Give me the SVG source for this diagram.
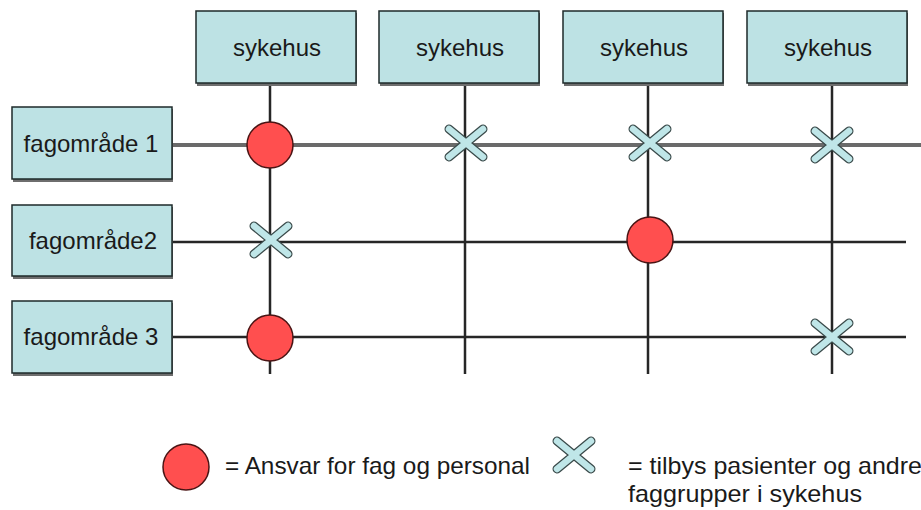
<svg xmlns="http://www.w3.org/2000/svg" width="921" height="510" viewBox="0 0 921 510">
  <defs>
    <style>
      .box { fill: #bde2e4; stroke: #1e2a2a; stroke-width: 1.5; }
      .shadow { fill: #6e6e6e; }
      .lbl { font-family: "Liberation Sans", Arial, sans-serif; font-size: 24px; fill: #1a1a1a; text-anchor: middle; }
      .leg { font-family: "Liberation Sans", Arial, sans-serif; font-size: 24px; fill: #1a1a1a; }
      .grid { stroke: #262626; stroke-width: 2.5; fill: none; }
      .gridTop { stroke: #6a6a6a; stroke-width: 4; fill: none; }
      .dot { fill: #ff4f4f; stroke: #4a1414; stroke-width: 1.5; }
      .xo { stroke: #3a4a4a; stroke-width: 9; stroke-linecap: round; fill: none; }
      .xi { stroke: #bfe6e8; stroke-width: 6.5; stroke-linecap: round; fill: none; }
    </style>
    <g id="cross">
      <path class="xo" d="M-17,-14 L17,14 M17,-14 L-17,14"/>
      <path class="xi" d="M-17,-14 L17,14 M17,-14 L-17,14"/>
    </g>
  </defs>
  <rect width="921" height="510" fill="#ffffff"/>

  <!-- grid lines -->
  <g id="connectors">
    <line class="grid" x1="270" y1="84" x2="270" y2="374"/>
    <line class="grid" x1="465" y1="84" x2="465" y2="374"/>
    <line class="grid" x1="648" y1="84" x2="648" y2="374"/>
    <line class="grid" x1="832" y1="84" x2="832" y2="374"/>
    <line class="gridTop" x1="172" y1="145" x2="921" y2="145"/>
    <line class="grid" x1="172" y1="242" x2="906" y2="242"/>
    <line class="grid" x1="172" y1="337" x2="906" y2="337"/>
  </g>

  <!-- column headers -->
  <g id="sykehus1"><rect class="shadow" x="197" y="13" width="160" height="73"/><rect class="box" x="196" y="11" width="160" height="72"/><text class="lbl" x="277" y="56">sykehus</text></g>
  <g id="sykehus2"><rect class="shadow" x="380" y="13" width="160" height="73"/><rect class="box" x="379" y="11" width="160" height="72"/><text class="lbl" x="460" y="56">sykehus</text></g>
  <g id="sykehus3"><rect class="shadow" x="564" y="13" width="160" height="73"/><rect class="box" x="563" y="11" width="160" height="72"/><text class="lbl" x="644" y="56">sykehus</text></g>
  <g id="sykehus4"><rect class="shadow" x="748" y="13" width="160" height="73"/><rect class="box" x="747" y="11" width="160" height="72"/><text class="lbl" x="828" y="56">sykehus</text></g>

  <!-- row headers -->
  <g id="fag1"><rect class="shadow" x="13" y="109" width="160" height="73"/><rect class="box" x="12" y="107" width="160" height="72"/><text class="lbl" x="91" y="152">fagområde 1</text></g>
  <g id="fag2"><rect class="shadow" x="13" y="207" width="160" height="72"/><rect class="box" x="12" y="205" width="160" height="71"/><text class="lbl" x="93" y="249">fagområde2</text></g>
  <g id="fag3"><rect class="shadow" x="13" y="303" width="160" height="73"/><rect class="box" x="12" y="301" width="160" height="72"/><text class="lbl" x="91" y="345">fagområde 3</text></g>

  <!-- markers -->
  <g id="markers">
    <circle class="dot" cx="270" cy="145" r="23"/>
    <circle class="dot" cx="650" cy="240" r="23"/>
    <circle class="dot" cx="270" cy="338" r="23"/>
    <use href="#cross" x="466" y="143"/>
    <use href="#cross" x="650" y="143"/>
    <use href="#cross" x="832" y="145"/>
    <use href="#cross" x="271" y="240"/>
    <use href="#cross" x="832" y="337"/>
  </g>

  <!-- legend -->
  <g id="legend">
    <circle class="dot" cx="186" cy="467" r="23"/>
    <text class="leg" x="225" y="474" textLength="305" lengthAdjust="spacingAndGlyphs">= Ansvar for fag og personal</text>
    <use href="#cross" x="574" y="455"/>
    <text class="leg" x="628" y="474" textLength="294" lengthAdjust="spacingAndGlyphs">= tilbys pasienter og andre</text>
    <text class="leg" x="628" y="502" textLength="234" lengthAdjust="spacingAndGlyphs">faggrupper i sykehus</text>
  </g>
</svg>
